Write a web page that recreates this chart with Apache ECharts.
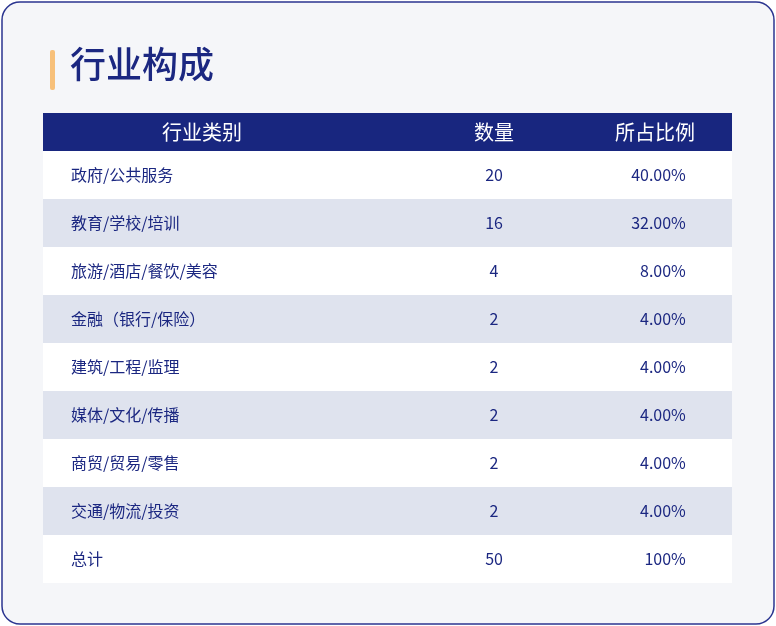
<!DOCTYPE html>
<html>
<head>
<meta charset="utf-8">
<script src="https://cdn.jsdelivr.net/npm/echarts@6/dist/echarts.min.js"></script>
<style>html,body{margin:0;padding:0;background:#fff;}#main{width:776px;height:626px;}</style>
</head>
<body>
<div id="main"></div>
<script>
var categories = ['政府/公共服务', '教育/学校/培训', '旅游/酒店/餐饮/美容', '金融（银行/保险）', '建筑/工程/监理', '媒体/文化/传播', '商贸/贸易/零售', '交通/物流/投资', '总计'];
var counts = [20, 16, 4, 2, 2, 2, 2, 2, 50];
var percents = ['40.00%', '32.00%', '8.00%', '4.00%', '4.00%', '4.00%', '4.00%', '4.00%', '100%'];
var headers = ['行业类别', '数量', '所占比例'];

var font = '"Noto Sans CJK SC", "Noto Sans", sans-serif';
var blue = '#1b2781';

var chart = echarts.init(document.getElementById('main'));
var option = {
	animation: false,
	backgroundColor: '#ffffff',
	grid: { left: 43, right: 44, top: 151, bottom: 43 },
	xAxis: { type: 'value', min: 0, max: 100, show: false },
	yAxis: { type: 'category', data: categories, inverse: true, show: false },
	graphic: [
		{ type: 'rect', shape: { x: 2, y: 2, width: 772, height: 622, r: 18 }, style: { fill: '#f5f6f9', stroke: '#2b3590', lineWidth: 1.5 }, z: -10 },
		{ type: 'rect', shape: { x: 50, y: 50, width: 5, height: 40, r: 2 }, style: { fill: '#f7c07a' } },
		{ type: 'text', left: 70, top: 46, style: { text: '行业构成', font: '500 36px ' + font, fill: blue } },
		{ type: 'rect', shape: { x: 43, y: 113, width: 689, height: 38 }, style: { fill: '#18267f' } },
		{ type: 'text', x: 202, y: 132, style: { text: headers[0], font: '20px ' + font, fill: '#fff', textAlign: 'center', textVerticalAlign: 'middle' } },
		{ type: 'text', x: 494, y: 132, style: { text: headers[1], font: '20px ' + font, fill: '#fff', textAlign: 'center', textVerticalAlign: 'middle' } },
		{ type: 'text', x: 655, y: 132, style: { text: headers[2], font: '20px ' + font, fill: '#fff', textAlign: 'center', textVerticalAlign: 'middle' } }
	],
	series: [{
		type: 'custom',
		data: categories.map(function (c, i) { return [i]; }),
		encode: { y: 0 },
		renderItem: function (params, api) {
			var i = api.value(0);
			var cs = params.coordSys;
			var h = api.size([0, 1])[1];
			var cy = api.coord([0, i])[1];
			var xName = api.coord([4.06, i])[0];
			var xCount = api.coord([65.46, i])[0];
			var xPct = api.coord([93.3, i])[0];
			var ts = { font: '16px ' + font, fill: blue, textVerticalAlign: 'middle' };
			return {
				type: 'group',
				children: [
					{ type: 'rect', shape: { x: cs.x, y: cy - h / 2, width: cs.width, height: h }, style: { fill: i % 2 ? '#dfe3ee' : '#ffffff' } },
					{ type: 'text', style: Object.assign({ x: xName, y: cy, text: categories[i], textAlign: 'left' }, ts) },
					{ type: 'text', style: Object.assign({ x: xCount, y: cy, text: String(counts[i]), textAlign: 'center' }, ts) },
					{ type: 'text', style: Object.assign({ x: xPct, y: cy, text: percents[i], textAlign: 'right' }, ts) }
				]
			};
		}
	}]
};
chart.setOption(option);
</script>
</body>
</html>
